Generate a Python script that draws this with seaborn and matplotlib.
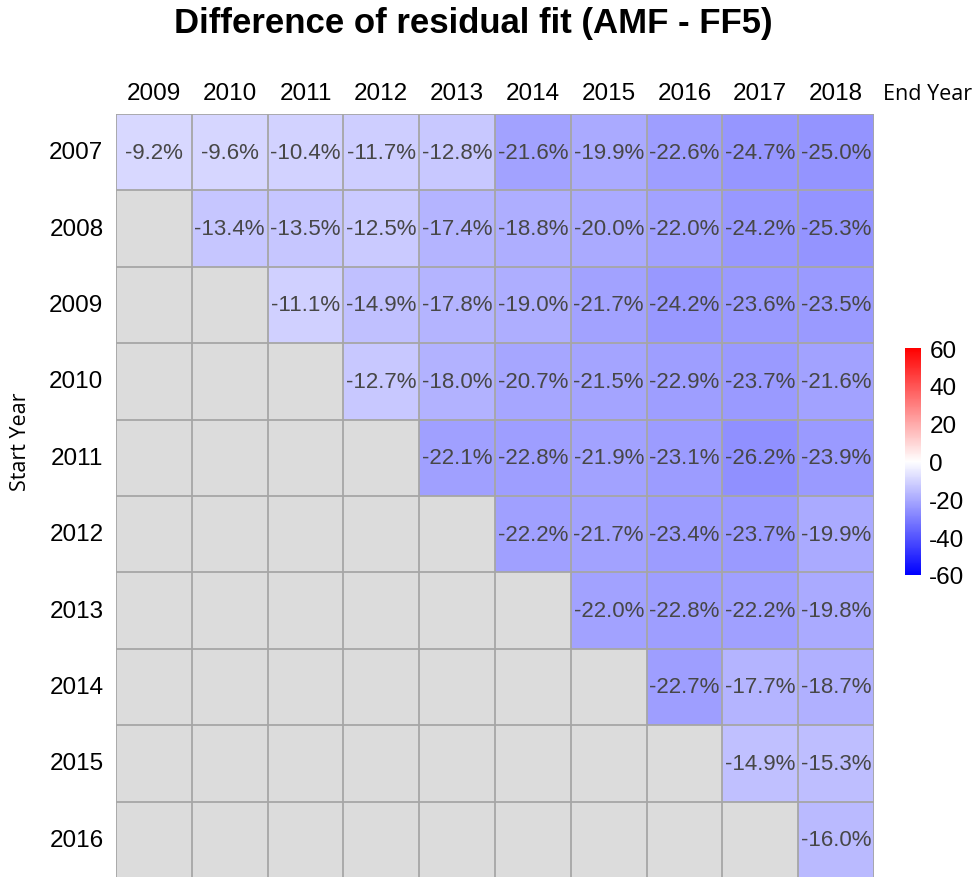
import numpy as np
import pandas as pd
import matplotlib
matplotlib.use("Agg")
import matplotlib.pyplot as plt
from matplotlib.colors import LinearSegmentedColormap
import seaborn as sns

start_years = [2007, 2008, 2009, 2010, 2011, 2012, 2013, 2014, 2015, 2016]
end_years = [2009, 2010, 2011, 2012, 2013, 2014, 2015, 2016, 2017, 2018]
nan = np.nan

row_2007 = [-9.2, -9.6, -10.4, -11.7, -12.8, -21.6, -19.9, -22.6, -24.7, -25.0]
row_2008 = [nan, -13.4, -13.5, -12.5, -17.4, -18.8, -20.0, -22.0, -24.2, -25.3]
row_2009 = [nan, nan, -11.1, -14.9, -17.8, -19.0, -21.7, -24.2, -23.6, -23.5]
row_2010 = [nan, nan, nan, -12.7, -18.0, -20.7, -21.5, -22.9, -23.7, -21.6]
row_2011 = [nan, nan, nan, nan, -22.1, -22.8, -21.9, -23.1, -26.2, -23.9]
row_2012 = [nan, nan, nan, nan, nan, -22.2, -21.7, -23.4, -23.7, -19.9]
row_2013 = [nan, nan, nan, nan, nan, nan, -22.0, -22.8, -22.2, -19.8]
row_2014 = [nan, nan, nan, nan, nan, nan, nan, -22.7, -17.7, -18.7]
row_2015 = [nan, nan, nan, nan, nan, nan, nan, nan, -14.9, -15.3]
row_2016 = [nan, nan, nan, nan, nan, nan, nan, nan, nan, -16.0]

values = np.array([row_2007, row_2008, row_2009, row_2010, row_2011,
                   row_2012, row_2013, row_2014, row_2015, row_2016])
df = pd.DataFrame(values, index=start_years, columns=end_years)

labels = np.where(np.isnan(values), "", np.char.mod("%.1f%%", np.nan_to_num(values)))

sns.set_style("white")
plt.rcParams["font.family"] = ["Liberation Sans", "DejaVu Sans"]
plt.rcParams["axes.unicode_minus"] = False
plt.rcParams["text.color"] = "black"
plt.rcParams["xtick.color"] = "black"
plt.rcParams["ytick.color"] = "black"

cmap = LinearSegmentedColormap.from_list("bwr_lin", ["#0000ff", "#ffffff", "#ff0000"])

fig = plt.figure(figsize=(9.77, 8.78), dpi=100)
ax = fig.add_axes([116 / 977, 1 - 879 / 878, 758 / 977, 764 / 878])
cax = fig.add_axes([905 / 977, 1 - 576 / 878, 16 / 977, 227 / 878])

ax.set_facecolor("#dcdcdc")
sns.heatmap(df, ax=ax, cbar_ax=cax, cmap=cmap, vmin=-60, vmax=60,
            annot=labels, fmt="", mask=df.isna(),
            annot_kws={"color": "#474747", "fontsize": 16})

# grid over every cell, including the empty ones
for k in range(11):
    ax.axhline(k, color="#a6a6a6", lw=1.3)
    ax.axvline(k, color="#a6a6a6", lw=1.3)

ax.xaxis.tick_top()
ax.tick_params(axis="both", length=0, labelsize=17.5, colors="black")
ax.tick_params(axis="x", pad=7)
ax.tick_params(axis="y", pad=9)
ax.set_yticklabels(start_years, rotation=0)
ax.set_xticklabels(end_years, rotation=0)
ax.set_xlabel("")
ax.set_ylabel("")
for s in ax.spines.values():
    s.set_visible(False)

cbar = ax.collections[0].colorbar
cbar.set_ticks([-60, -40, -20, 0, 20, 40, 60])
cbar.outline.set_visible(False)
cax.tick_params(length=0, labelsize=17.5, pad=6, colors="black")

fig.text(883 / 977, 1 - 94 / 878, "End Year", fontsize=15.5, va="center", ha="left",
         color="black", family=["Open Sans", "DejaVu Sans"])
fig.text(21 / 977, 1 - 442 / 878, "Start Year", fontsize=15.5, va="center", ha="center",
         color="black", rotation=90, family=["Open Sans", "DejaVu Sans"])
fig.text(473 / 977, 1 - 23 / 878, "Difference of residual fit (AMF - FF5)",
         fontsize=25, fontweight="bold", ha="center", va="center", color="black")

fig.savefig("out.png", dpi=100)
